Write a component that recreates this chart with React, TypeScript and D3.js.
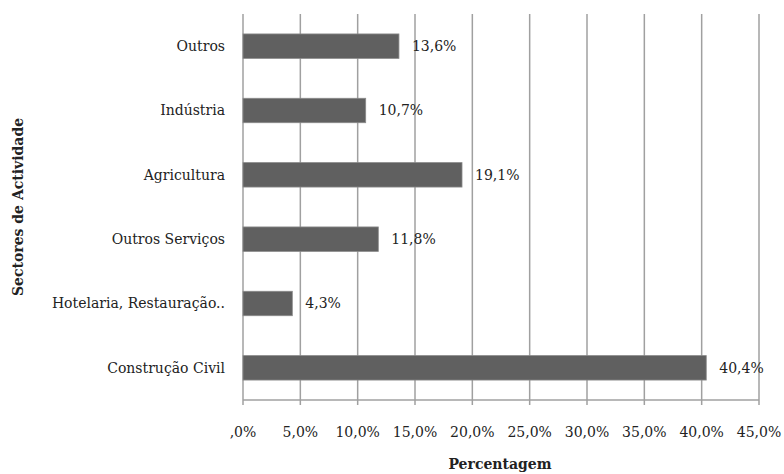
import React from "react";
import * as d3 from "d3";

const categories = ["Outros", "Indústria", "Agricultura", "Outros Serviços", "Hotelaria, Restauração..", "Construção Civil"];
const values = [13.6, 10.7, 19.1, 11.8, 4.3, 40.4];
const ticks = [0, 5, 10, 15, 20, 25, 30, 35, 40, 45];

const W = 784, H = 474;
const margin = { left: 243, right: 25, top: 14, bottom: 74 };
const FONT = "'DejaVu Serif', 'Liberation Serif', serif";

const fmt = (v: number) => (v === 0 ? ",0%" : v.toFixed(1).replace(".", ",") + "%");

export default function App() {
  const x = d3.scaleLinear().domain([0, 45]).range([margin.left, W - margin.right]);
  const y = d3.scaleBand().domain(categories).range([margin.top, H - margin.bottom]).paddingInner(0.62).paddingOuter(0.31);
  const bottom = H - margin.bottom;
  return (
    <svg width={W} height={H} style={{ position: "absolute", left: 0, top: 0, background: "#fff" }}>
      <g style={{ fontFamily: FONT }}>
        {ticks.map((t) => (
          <g key={t}>
            <line x1={x(t)} x2={x(t)} y1={margin.top} y2={bottom + 5} stroke="#a0a0a0" strokeWidth={1.5} />
            <text x={x(t)} y={bottom + 37} textAnchor="middle" fontSize={14} fill="#222">{fmt(t)}</text>
          </g>
        ))}
        <line x1={margin.left} x2={x(45)} y1={bottom} y2={bottom} stroke="#a0a0a0" strokeWidth={1.5} />
        {categories.map((c, i) => (
          <g key={c}>
            <rect x={x(0)} y={y(c)!} width={x(values[i]) - x(0)} height={y.bandwidth()} fill="#606060" stroke="#8a8a8a" strokeWidth={0.8} />
            <text x={x(values[i]) + 13} y={y(c)! + y.bandwidth() / 2} dy="0.35em" fontSize={14} fill="#222">{fmt(values[i])}</text>
            <text x={margin.left - 18} y={y(c)! + y.bandwidth() / 2} dy="0.35em" textAnchor="end" fontSize={14} fill="#222">{c}</text>
          </g>
        ))}
        <text x={500} y={469} textAnchor="middle" fontSize={14} fontWeight="bold" fill="#222">Percentagem</text>
        <text transform={`translate(23, ${(margin.top + bottom) / 2}) rotate(-90)`} textAnchor="middle" fontSize={14} fontWeight="bold" fill="#222">Sectores de Actividade</text>
      </g>
    </svg>
  );
}
